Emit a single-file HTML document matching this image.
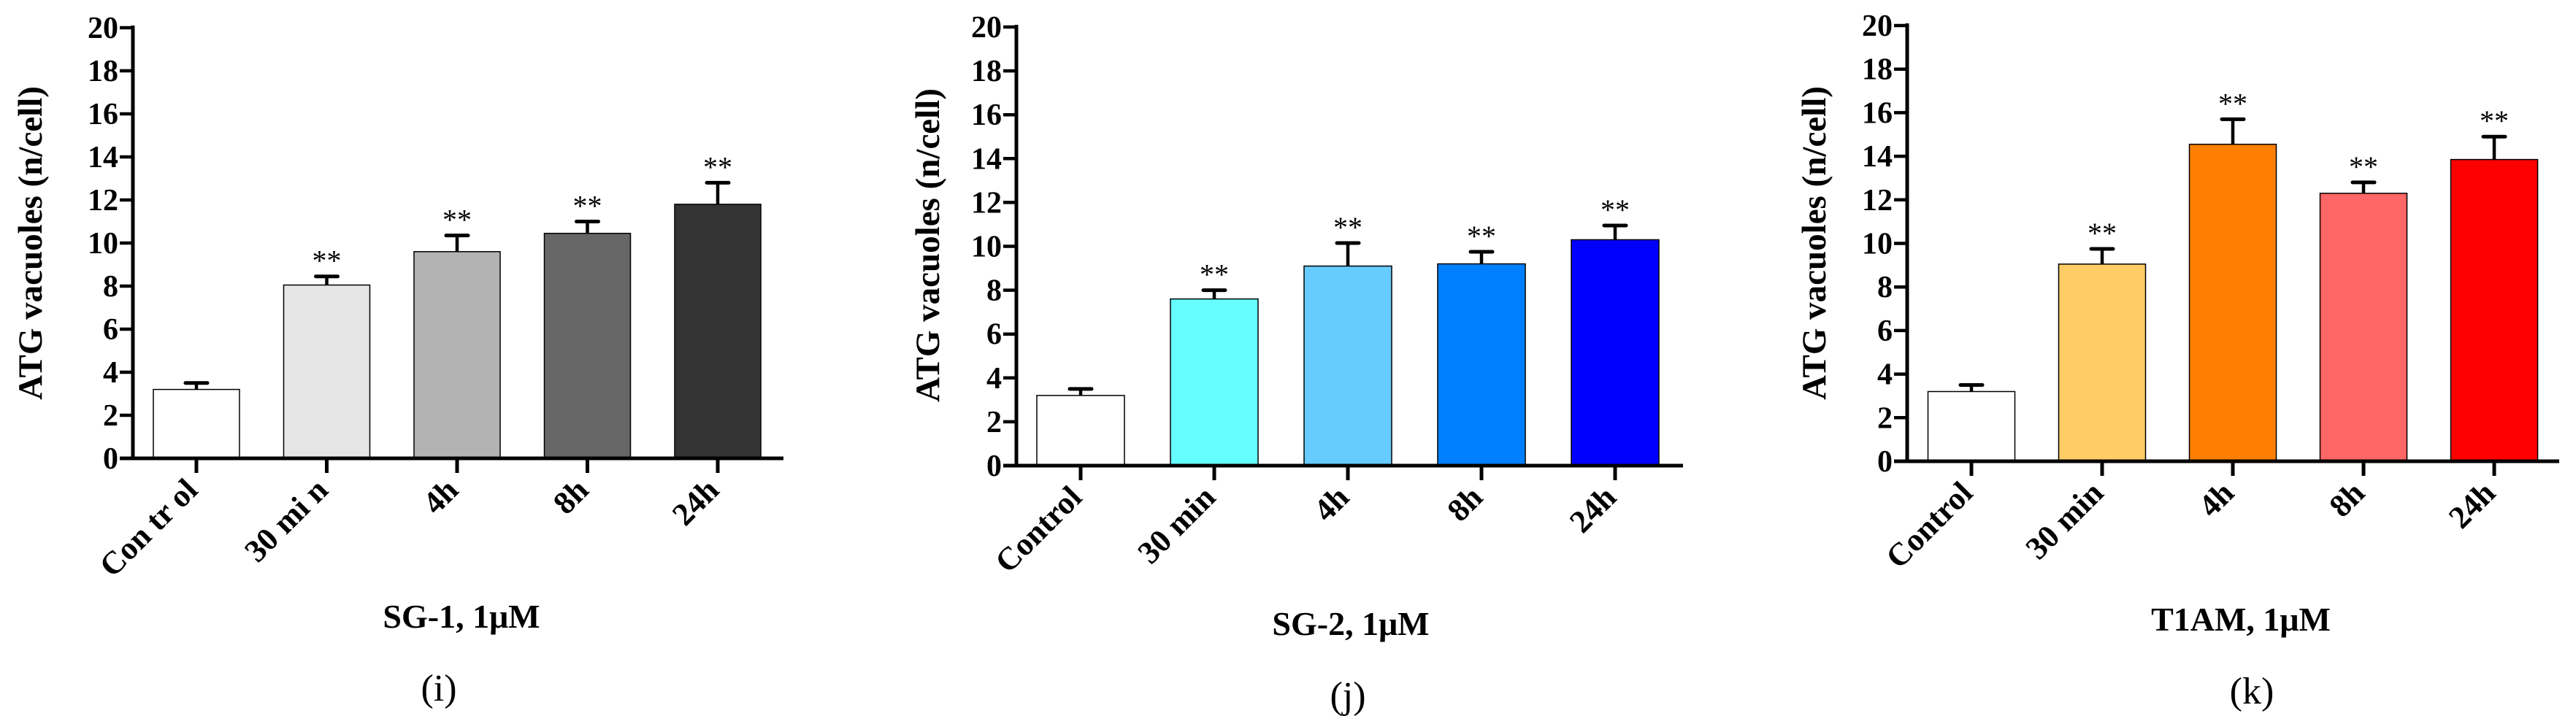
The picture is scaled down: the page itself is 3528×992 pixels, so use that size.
<!DOCTYPE html>
<html><head><meta charset="utf-8"><style>
html,body{margin:0;padding:0;background:#fff;}
svg{display:block;font-family:"Liberation Serif",serif;}
</style></head><body>
<svg id="chart" width="3528" height="992" viewBox="0 0 3528 992" xmlns="http://www.w3.org/2000/svg"></svg>
<script>
const categoriesI = ["Con tr ol","30 mi n","4h","8h","24h"];
const categoriesJ = ["Control","30 min","4h","8h","24h"];
const categoriesK = ["Control","30 min","4h","8h","24h"];
const valuesI = [3.2, 8.05, 9.6, 10.45, 11.8];
const errorsI = [0.3, 0.4, 0.75, 0.55, 1.0];
const valuesJ = [3.2, 7.6, 9.1, 9.2, 10.3];
const errorsJ = [0.3, 0.4, 1.05, 0.55, 0.65];
const valuesK = [3.2, 9.05, 14.55, 12.3, 13.85];
const errorsK = [0.3, 0.7, 1.15, 0.5, 1.05];
const sigI = ["", "**", "**", "**", "**"];
const sigJ = ["", "**", "**", "**", "**"];
const sigK = ["", "**", "**", "**", "**"];
const yTicks = [0,2,4,6,8,10,12,14,16,18,20];

const panels = [
 {id:"i", cats:categoriesI, vals:valuesI, errs:errorsI, sig:sigI, colors:["#ffffff","#e6e6e6","#b3b3b3","#666666","#333333"],
  ax:182, y0:628, y20:38, axEnd:1073, c0:269, pitch:178.5, bw:118, titleX:42, titleY:333, xt:"SG-1, 1μM", xtX:632, xtY:860, lab:"(i)", labX:601, labY:960},
 {id:"j", cats:categoriesJ, vals:valuesJ, errs:errorsJ, sig:sigJ, colors:["#ffffff","#66ffff","#66ccff","#0080ff","#0000ff"],
  ax:1392, y0:638, y20:37, axEnd:2305, c0:1480, pitch:183, bw:120, titleX:1271, titleY:336, xt:"SG-2, 1μM", xtX:1850, xtY:870, lab:"(j)", labX:1846, labY:970},
 {id:"k", cats:categoriesK, vals:valuesK, errs:errorsK, sig:sigK, colors:["#ffffff","#ffcc66","#ff8000","#ff6666","#ff0000"],
  ax:2612, y0:632, y20:35, axEnd:3505, c0:2700, pitch:179, bw:119, titleX:2485, titleY:333, xt:"T1AM, 1μM", xtX:3069, xtY:864, lab:"(k)", labX:3084, labY:964}
];
const svg = document.getElementById('chart');
const NS = "http://www.w3.org/2000/svg";
function mk(tag, attrs, parent){const e=document.createElementNS(NS,tag);for(const k in attrs)e.setAttribute(k,attrs[k]);parent.appendChild(e);return e;}

panels.forEach(p=>{
  const g = mk('g',{},svg);
  
  
  const y = v => p.y0 - (p.y0-p.y20)*v/20;
  const x = i => p.c0 + p.pitch*i;
  p.vals.forEach((v,i)=>{
    const r = mk('rect',{x:x(i)-p.bw/2,y:y(v),width:p.bw,height:p.y0-y(v),fill:p.colors[i],stroke:"#000","stroke-width":1.5},g);
    
    
    const top = y(v+p.errs[i]);
    const e1 = mk('line',{x1:x(i),x2:x(i),y1:y(v),y2:top,stroke:"#000","stroke-width":4.5},g);
    
    
    mk('line',{x1:x(i)-15,x2:x(i)+15,y1:top,y2:top,stroke:"#000","stroke-width":5,"stroke-linecap":"round"},g);
    if(p.sig[i]){
      const s = mk('text',{x:x(i),y:top-8,"text-anchor":"middle","font-size":40},g);
      s.textContent = p.sig[i];
      
      
    }
    mk('line',{x1:x(i),x2:x(i),y1:p.y0,y2:p.y0+20,stroke:"#000","stroke-width":5},g);
    const lx = x(i)+4, ly = p.y0+46;
    const t = mk('text',{x:lx,y:ly,"text-anchor":"end","font-size":44,"font-weight":"bold",transform:`rotate(-45 ${lx} ${ly})`},g);
    t.textContent = p.cats[i];
    
    
  });
  const ya = mk('line',{x1:p.ax,x2:p.ax,y1:p.y20-3,y2:p.y0+2,stroke:"#000","stroke-width":5},g);
  
  
  const xa = mk('line',{x1:p.ax-18,x2:p.axEnd,y1:p.y0,y2:p.y0,stroke:"#000","stroke-width":5},g);
  
  
  yTicks.forEach(v=>{
    mk('line',{x1:p.ax-18,x2:p.ax,y1:y(v),y2:y(v),stroke:"#000","stroke-width":4.5},g);
    const t = mk('text',{x:p.ax-20,y:y(v)+14,"text-anchor":"end","font-size":42,"font-weight":"bold"},g);
    t.textContent = v;
    
    
  });
  const yt = mk('text',{x:p.titleX,y:p.titleY,"text-anchor":"middle","font-size":47,"font-weight":"bold",transform:`rotate(-90 ${p.titleX} ${p.titleY})`,"dominant-baseline":"central"},g);
  yt.textContent = "ATG vacuoles (n/cell)";
  
  
  const xt = mk('text',{x:p.xtX,y:p.xtY,"text-anchor":"middle","font-size":46,"font-weight":"bold"},g);
  xt.textContent = p.xt;
  
  
  const lb = mk('text',{x:p.labX,y:p.labY,"text-anchor":"middle","font-size":52},g);
  lb.textContent = p.lab;
  
  
});
</script>
</body></html>
